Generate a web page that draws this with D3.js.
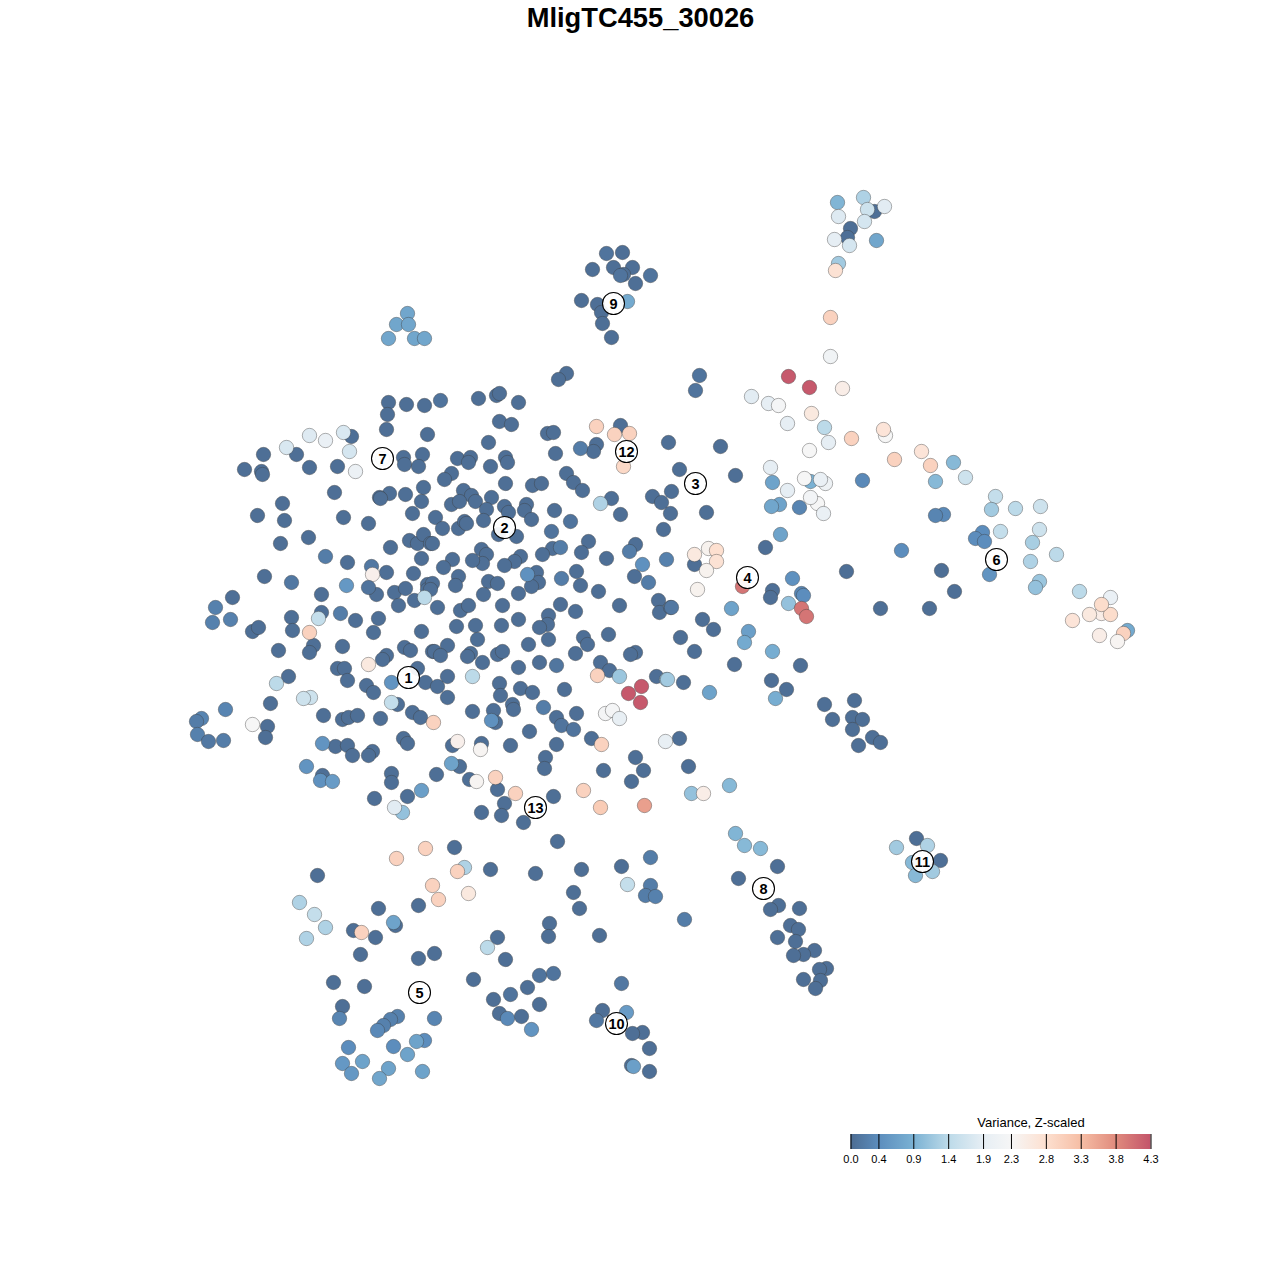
<!DOCTYPE html>
<html>
<head>
<meta charset="utf-8">
<script src="https://cdn.jsdelivr.net/npm/d3@7"></script>
<style>
html,body{margin:0;padding:0;background:#fff}
svg{display:block}
text{font-family:"Liberation Sans",Arial,sans-serif}
</style>
</head>
<body>
<svg id="chart" width="1280" height="1280"></svg>
<script>
const chartTitle = "MligTC455_30026";
const legendTitle = "Variance, Z-scaled";
const legendTicks = [0.0,0.4,0.9,1.4,1.9,2.3,2.8,3.3,3.8,4.3];
const legendLabels = ["0.0","0.4","0.9","1.4","1.9","2.3","2.8","3.3","3.8","4.3"];
const legendColors = ["#4c6c92","#5c8dbd","#7ab1d3","#bcdae9","#e6eef4","#f6f6f6","#fde0d0","#f6bea5","#e08b7d","#c3546a"];

// embedding coordinates of cells with near-zero variance
const lowVarianceValue = 0.04;
const lowCells = [
[388,402],[406,404],[424,405],[387,414],[386,429],[427,434],[351,436],[296,454],[263,454],[403,457],[422,454],[404,464],[418,466],[337,466],[309,467],[244,469],[261,471],[262,474],[334,492],[389,493],[379,497],[380,498],[405,494],[423,487],[421,501],[282,503],[412,513],[257,515],[284,520],[343,517],[368,523],[308,537],[409,540],[417,543],[423,534],[430,543],[390,547],[280,543],[421,558],[347,562],[386,572],[413,573],[264,576],[376,594],[394,592],[405,588],[427,584],[427,589],[398,605],[414,600],[321,594],[232,597],[291,617],[321,612],[355,620],[378,618],
[292,630],[373,632],[421,631],[252,631],[258,627],[278,650],[313,645],[309,652],[342,646],[404,647],[410,650],[432,651],[386,655],[382,659],[337,668],[344,668],[347,680],[288,676],[417,668],[425,682],[366,685],[373,692],[270,703],[397,704],[412,712],[420,717],[267,726],[265,737],[323,715],[342,719],[348,717],[357,715],[380,718],[403,738],[407,743],[335,746],[347,745],[352,755],[372,751],[368,755],[322,775],[391,773],[391,782],[374,798],[407,796],
[437,607],[460,610],[468,605],[502,605],[560,604],[575,611],[619,605],[658,600],[659,612],[518,619],[548,615],[547,624],[539,627],[456,626],[475,625],[501,625],[477,639],[548,639],[583,637],[587,644],[528,644],[608,634],[447,645],[434,651],[440,655],[470,653],[467,656],[497,654],[502,651],[482,662],[575,653],[635,652],[630,654],[539,662],[518,667],[600,662],[609,670],[447,676],[437,686],[447,697],[499,683],[500,695],[520,688],[532,692],[564,689],[656,676],[472,711],[493,710],[495,722],[512,704],[513,709],[556,717],[576,713],[529,731],[591,738],[452,745],[481,743],[510,745],[556,744],[545,757],[544,768],[635,757],[643,770],[631,781],[603,770],[459,766],[436,774],[469,779],[497,789],[504,803],[481,812],[501,815],[523,822],[553,796],[557,841],
[478,398],[496,395],[499,393],[518,402],[499,421],[511,424],[488,442],[547,433],[553,432],[620,425],[596,444],[593,451],[555,453],[668,442],[457,458],[470,457],[468,462],[490,466],[505,457],[507,462],[451,473],[444,479],[505,483],[566,473],[573,482],[582,490],[532,485],[541,483],[611,498],[652,496],[661,502],[671,491],[670,513],[620,514],[663,529],[463,490],[471,495],[451,504],[459,501],[475,501],[491,497],[486,509],[504,506],[508,512],[526,504],[524,510],[531,519],[554,510],[435,517],[442,528],[458,528],[464,521],[466,523],[483,520],[498,534],[516,536],[588,541],[581,552],[552,548],[542,554],[635,544],[606,558],[432,543],[481,549],[486,554],[482,563],[472,560],[452,559],[443,567],[520,556],[514,561],[504,565],[536,572],[538,582],[531,586],[576,571],[580,585],[598,591],[634,576],[458,576],[488,581],[497,583],[455,585],[483,594],[518,593],[432,583],[430,589],
[679,469],[720,446],[735,475],[706,512],[765,547],[694,564],[846,571],[772,590],[770,597],[880,608],[702,619],[713,629],[680,637],[694,651],[734,664],[800,665],[683,682],[771,680],[786,689],[824,704],[854,700],[832,719],[852,717],[862,719],[852,729],[872,737],[880,742],[858,745],[679,738],[688,766],
[874,211],[850,228],[847,237],[941,570],[954,591],[929,608],
[454,847],[490,869],[535,873],[317,875],[378,908],[418,905],[395,925],[353,930],[375,937],[549,923],[548,936],[497,937],[360,954],[434,953],[418,958],[505,959],[473,979],[333,982],[364,986],[527,987],[493,999],[539,1004],[342,1006],[499,1013],[521,1016],
[621,866],[581,869],[573,892],[579,908],[599,935],[777,866],[738,878],[778,905],[770,909],[799,908],[790,925],[798,929],[777,937],[795,941],[814,950],[803,954],[793,955],[826,968],[819,969],[803,979],[820,980],[815,988],[602,1010],[642,1032],[632,1033],[649,1048],[631,1065],[649,1071],
[916,838],[940,860],
[622,252],[592,269],[613,267],[632,267],[623,274],[635,283],[581,300],[597,304],[601,312],[602,323],[611,337],[566,373],[558,379]
];

// embedding coordinates and variance of all remaining cells
const otherCells = [
[440,400,.1],[343,432,1.75],[309,435,1.8],[325,440,2.0],[286,447,1.75],[349,451,1.7],[382,458,1.8],[355,471,2.05],[325,556,.2],[371,566,.15],[372,574,2.45],[291,582,.15],[346,585,.55],[368,587,.1],[424,597,1.4],[215,607,.25],[230,619,.25],[212,622,.25],[318,618,1.5],[340,613,.2],
[309,632,3.0],[368,664,2.6],[276,683,1.4],[391,682,.5],[310,697,1.6],[303,698,1.6],[391,702,1.5],[433,722,3.0],[225,709,.3],[201,718,.3],[196,721,.2],[197,734,.25],[208,741,.15],[223,740,.2],[252,724,2.3],[322,743,.5],[306,766,.5],[320,780,.45],[332,781,.6],[421,790,.65],[402,812,1.1],[394,807,1.85],
[556,665,.12],[597,675,3.0],[619,676,1.15],[472,676,1.4],[666,679,1.2],[641,686,4.25],[628,693,4.25],[640,702,4.25],[491,720,.45],[543,707,.2],[561,725,.1],[573,729,.1],[605,713,2.25],[612,710,2.25],[619,718,1.95],[601,744,3.0],[665,741,1.95],[457,741,2.45],[480,749,2.35],[451,763,.7],[476,781,2.35],[495,777,3.0],[515,793,3.0],[583,790,3.0],[600,807,3.1],[644,805,3.6],
[596,426,3.0],[614,434,3.0],[629,433,3.0],[580,448,.2],[623,466,2.9],[600,503,1.3],[570,521,.1],[551,531,.1],[560,547,.2],[629,551,.2],[642,564,.45],[666,559,.25],[527,574,.45],[561,578,.2],[648,582,.2],[670,607,.15],
[699,375,.1],[695,390,.1],[830,356,2.15],[788,376,4.25],[809,387,4.25],[842,388,2.5],[751,396,1.85],[768,403,1.9],[778,405,2.25],[811,413,2.6],[787,423,1.9],[824,427,1.4],[828,442,1.9],[851,438,3.0],[885,435,2.3],[883,429,2.7],[894,459,3.0],[809,450,2.3],[770,467,1.9],[772,482,.7],[810,481,.9],[804,478,2.3],[825,483,2.1],[820,479,2.0],[787,490,1.9],[862,480,.35],[817,503,2.3],[810,497,2.2],[823,513,2.0],[779,504,.7],[771,506,.75],[799,507,.3],[780,534,.7],[901,550,.4],[708,548,2.4],[694,554,2.6],[716,550,2.8],[716,561,2.75],[706,570,2.4],[792,578,.45],
[697,589,2.4],[742,586,4.0],[801,593,.3],[803,595,.4],[788,603,1.1],[801,608,4.0],[806,616,4.0],[731,608,.7],[671,607,.15],[748,631,.65],[744,642,.8],[772,651,.85],[667,679,1.2],[775,698,.85],[709,692,.7],[729,785,1.0],[691,793,1.1],[703,793,2.5],
[837,202,.95],[863,197,1.3],[867,209,1.6],[884,206,1.85],[838,216,1.8],[864,221,1.7],[834,239,1.9],[849,245,1.7],[876,240,.75],[838,263,1.2],[835,270,2.75],[830,317,3.0],
[921,451,2.7],[930,465,3.0],[953,462,1.0],[965,477,1.6],[935,481,1.0],[995,496,1.5],[991,509,1.2],[1015,508,1.4],[1040,506,1.6],[943,514,.35],[935,515,.3],[1000,531,1.5],[1039,529,1.6],[982,532,.4],[975,538,.4],[984,541,.4],[1032,542,1.25],[1056,554,1.4],[1030,561,1.3],[989,574,.5],[1039,581,1.15],[1035,587,1.1],[1079,591,1.4],[1110,597,2.0],[1101,613,2.5],[1089,614,2.6],[1110,614,2.85],[1101,604,2.85],[1072,620,2.7],[1127,630,.8],[1123,633,3.0],[1099,635,2.5],[1117,641,2.35],
[425,848,3.0],[396,858,3.0],[464,867,1.3],[457,871,3.0],[432,885,3.0],[468,893,2.6],[438,899,3.0],[299,902,1.3],[314,914,1.5],[325,927,1.3],[393,922,.7],[361,932,3.0],[306,938,1.3],[487,947,1.4],[539,975,.1],[553,973,.1],[510,994,.1],[339,1018,.3],[434,1018,.3],[397,1016,.25],[390,1019,.25],[383,1025,.25],[377,1030,.35],[507,1018,.35],[531,1029,.5],[348,1047,.4],[393,1046,.4],[424,1040,.4],[416,1041,.7],[407,1054,.7],[362,1061,.7],[342,1063,.55],[351,1073,.55],[388,1068,.7],[422,1071,.7],[379,1078,.75],
[650,857,.2],[627,884,1.5],[650,885,.2],[645,895,.2],[655,896,.25],[684,919,.2],[735,833,.95],[744,845,1.0],[760,848,1.0],[621,983,.15],[626,1012,.6],[596,1020,.15],[633,1066,.65],
[927,845,1.3],[896,847,1.2],[912,862,1.0],[932,871,1.2],[915,875,1.0],
[606,253,.1],[620,275,.1],[650,275,.1],[627,301,.8],[407,313,.75],[396,324,.75],[408,324,.75],[388,338,.75],[414,338,.75],[424,338,.75]
];

const clusterIds = ["1","2","3","4","5","6","7","8","9","10","11","12","13"];
const clusterX = [408,504,695,747,419,996,382,763,613,616,922,626,535];
const clusterY = [677,527,483,577,992,559,458,888,303,1023,861,451,807];

const svg = d3.select("#chart");
const x = d3.scaleLinear().domain([0,1280]).range([0.5,1280.5]);
const y = d3.scaleLinear().domain([0,1280]).range([0.5,1280.5]);
const color = d3.scaleLinear().domain(legendTicks).range(legendColors).clamp(true);

const cells = lowCells.map(d => [d[0], d[1], lowVarianceValue]).concat(otherCells);

svg.append("g").selectAll("circle").data(cells).join("circle")
  .attr("cx", d => x(d[0])).attr("cy", d => y(d[1]))
  .attr("r", 7.2)
  .attr("fill", d => color(d[2]))
  .attr("stroke", "#3c3c3c").attr("stroke-opacity", 0.4).attr("stroke-width", 1);

const labels = svg.append("g").selectAll("g").data(clusterIds).join("g")
  .attr("transform", (d,i) => `translate(${x(clusterX[i])},${y(clusterY[i])})`);
labels.append("circle").attr("r", 11).attr("fill", "#fff").attr("fill-opacity", 0.93)
  .attr("stroke", "#000").attr("stroke-width", 1.1);
labels.append("text").text(d => d).attr("text-anchor", "middle").attr("y", 5)
  .attr("font-size", 14.5).attr("font-weight", "bold").attr("fill", "#000");

svg.append("text").text(chartTitle).attr("x", 640.5).attr("y", 27)
  .attr("text-anchor", "middle").attr("font-size", 27.3).attr("font-weight", "bold").attr("fill", "#000");

// legend
const legendScale = d3.scaleLinear().domain([0,4.3]).range([850.5,1150.5]);
const defs = svg.append("defs");
const grad = defs.append("linearGradient").attr("id", "legendGrad");
grad.selectAll("stop").data(legendTicks).join("stop")
  .attr("offset", d => d/4.3).attr("stop-color", d => color(d));
const leg = svg.append("g");
leg.append("rect").attr("x", legendScale(0)).attr("y", 1134).attr("width", legendScale(4.3)-legendScale(0)).attr("height", 15).attr("fill", "url(#legendGrad)");
leg.append("text").text(legendTitle).attr("x", 1031).attr("y", 1127).attr("text-anchor", "middle").attr("font-size", 13).attr("fill", "#000");
const legAxis = d3.axisBottom(legendScale).tickValues(legendTicks).tickFormat((d,i) => legendLabels[i]).tickSize(15).tickPadding(6.5);
const axisG = leg.append("g").attr("transform", "translate(0,1134)").call(legAxis);
axisG.select(".domain").remove();
axisG.selectAll("line").attr("stroke", "#000").attr("stroke-width", 1);
axisG.selectAll("text").attr("font-size", 11).attr("font-family", '"Liberation Sans",Arial,sans-serif').attr("fill", "#000");
</script>
</body>
</html>
